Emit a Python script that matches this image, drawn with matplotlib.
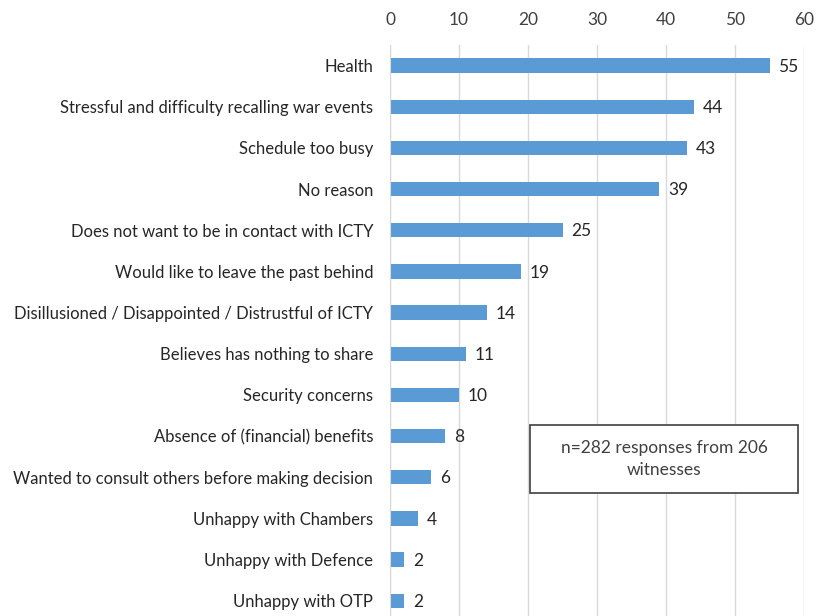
import matplotlib.pyplot as plt
from matplotlib.patches import Rectangle

# reasons given, top to bottom
reasons = ["Health",
           "Stressful and difficulty recalling war events",
           "Schedule too busy",
           "No reason",
           "Does not want to be in contact with ICTY",
           "Would like to leave the past behind",
           "Disillusioned / Disappointed / Distrustful of ICTY",
           "Believes has nothing to share",
           "Security concerns",
           "Absence of (financial) benefits",
           "Wanted to consult others before making decision",
           "Unhappy with Chambers",
           "Unhappy with Defence",
           "Unhappy with OTP"]
counts = [55, 44, 43, 39, 25, 19, 14, 11, 10, 8, 6, 4, 2, 2]
xticks = [0, 10, 20, 30, 40, 50, 60]
note = "n=282 responses from 206\nwitnesses"

plt.rcParams['font.family'] = ['Lato', 'DejaVu Sans']

fig = plt.figure(figsize=(8.18, 6.16), dpi=100)
ax = fig.add_axes([390 / 818, 0, 414 / 818, 571 / 616])

pos = list(range(len(reasons)))
ax.barh(pos, counts, height=0.35, color="#5B9BD5")

# value labels next to each bar
for p, v in zip(pos, counts):
    ax.text(v + 1.3, p + 0.03, str(v), va="center", ha="left", fontsize=12.5, color="#262626")

ax.set_xlim(0, 60)
ax.set_ylim(13.37, -0.5)
ax.set_xticks(xticks)
ax.set_yticks(pos)
ax.set_yticklabels(reasons)
ax.xaxis.tick_top()
ax.tick_params(axis="x", length=0, pad=12, labelsize=12.5, labelcolor="#404040")
ax.tick_params(axis="y", length=0, pad=12, labelsize=12, labelcolor="#262626")
ax.grid(axis="x", color="#D9D9D9", linewidth=1)
ax.set_axisbelow(True)
for s in ["top", "right", "bottom"]:
    ax.spines[s].set_visible(False)
ax.spines["left"].set_color("#D9D9D9")

# annotation box
box = Rectangle((140 / 414, (616 - 493) / 571), 268 / 414, 68 / 571,
                transform=ax.transAxes, facecolor="white", edgecolor="#404040",
                linewidth=1.2, zorder=5)
ax.add_patch(box)
ax.text(274 / 414, (616 - 459) / 571, note, transform=ax.transAxes, ha="center",
        va="center", fontsize=12.5, color="#404040", zorder=6, linespacing=1.45)

fig.savefig("out.png", dpi=100)
